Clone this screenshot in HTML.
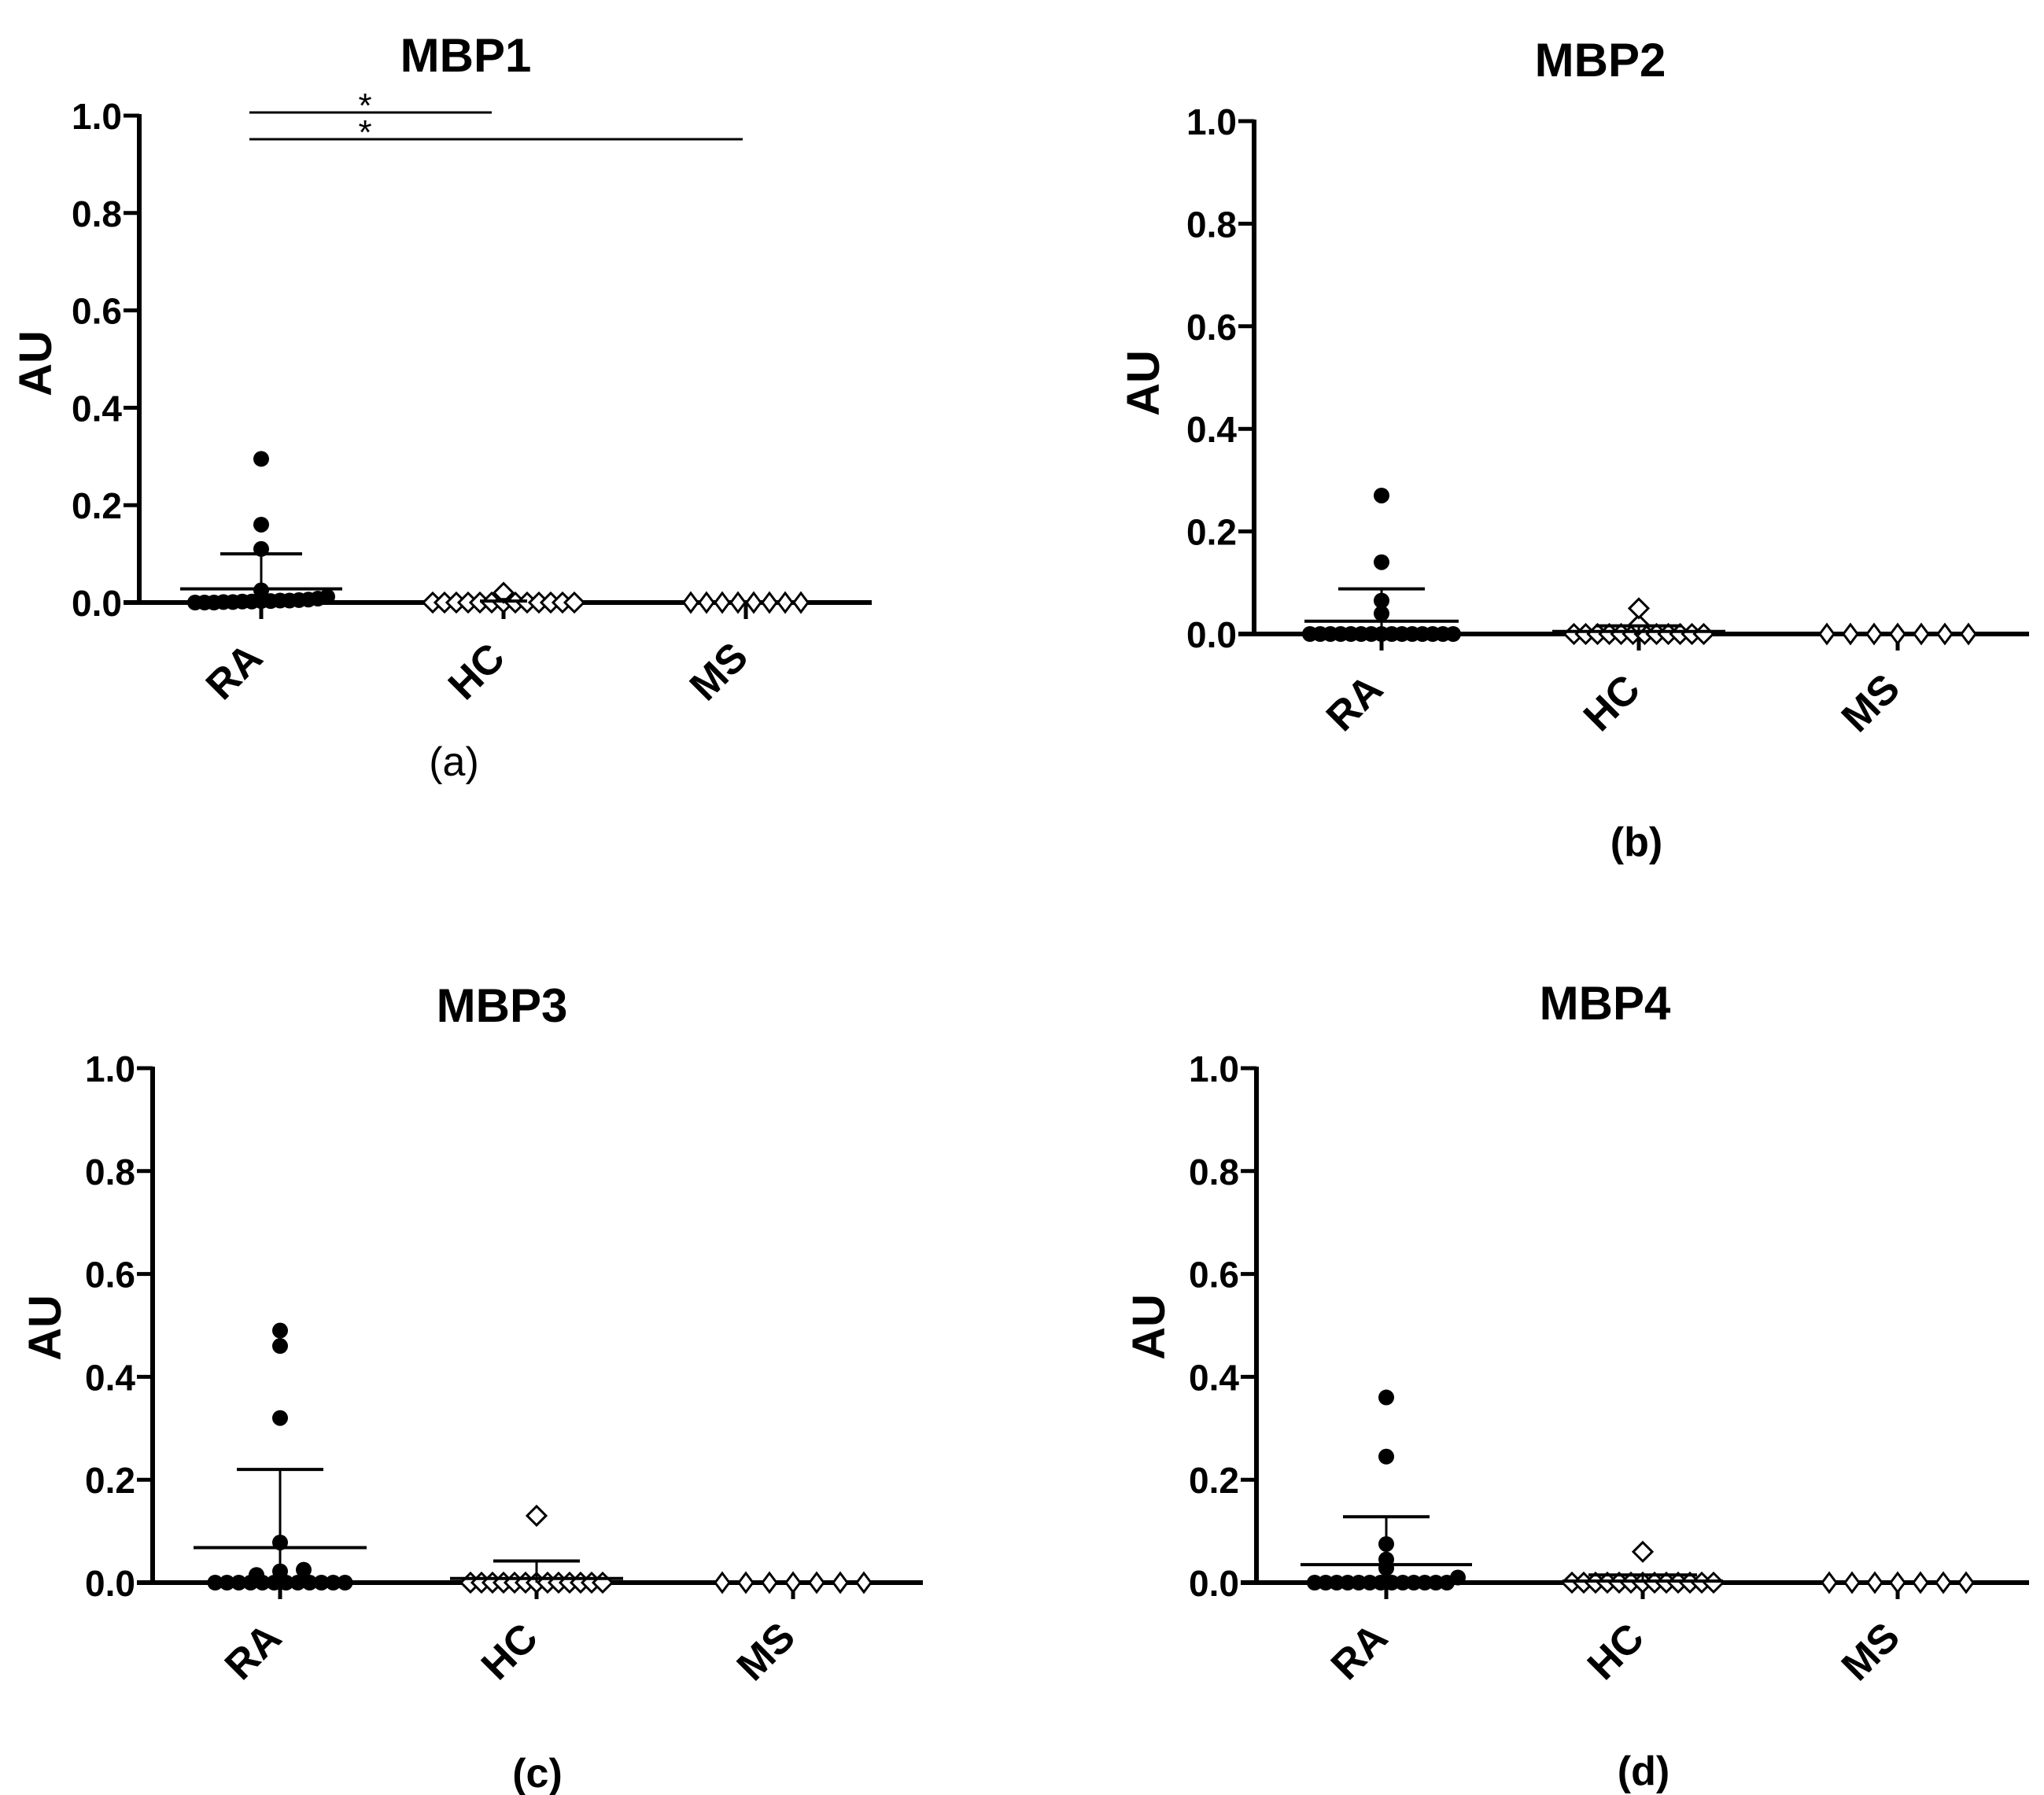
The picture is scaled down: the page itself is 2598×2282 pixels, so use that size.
<!DOCTYPE html>
<html><head><meta charset="utf-8"><style>
html,body{margin:0;padding:0;background:#fff}
svg{display:block}
text{font-family:"Liberation Sans",Arial,sans-serif;fill:#000}
</style></head><body>
<svg id="fig" width="2598" height="2282" viewBox="0 0 2598 2282" xmlns="http://www.w3.org/2000/svg"></svg>
<script>
// ---- data (values in AU) ----
const categories = ["RA","HC","MS"];
const yTicks = [0,0.2,0.4,0.6,0.8,1.0];
const yTickLabels = ["0.0","0.2","0.4","0.6","0.8","1.0"];
const panelTitles = ["MBP1","MBP2","MBP3","MBP4"];
const panelLetters = ["(a)","(b)","(c)","(d)"];

const mbp1RA = [0.295,0.16,0.11,0.025,0.012,0.008,0.006,0.005,0.004,0.004,0.003,0.003,0.002,0.002,0.001,0.001,0,0,0];
const mbp1HC = [0.02,0,0,0,0,0,0,0,0,0,0,0,0,0];
const mbp1MS = [0,0,0,0,0,0,0,0];
const mbp1Mean = [0.028,0.003,0];
const mbp1Upper = [0.10,0.006,0];

const mbp2RA = [0.27,0.14,0.065,0.04,0,0,0,0,0,0,0,0,0,0,0,0,0,0,0];
const mbp2HC = [0.05,0.018,0,0,0,0,0,0,0,0,0,0,0,0];
const mbp2MS = [0,0,0,0,0,0,0];
const mbp2Mean = [0.025,0.005,0];
const mbp2Upper = [0.088,0.016,0];

const mbp3RA = [0.49,0.46,0.32,0.078,0.025,0.022,0.015,0,0,0,0,0,0,0,0,0,0,0,0];
const mbp3HC = [0.13,0,0,0,0,0,0,0,0,0,0,0,0,0];
const mbp3MS = [0,0,0,0,0,0,0];
const mbp3Mean = [0.068,0.008,0];
const mbp3Upper = [0.22,0.042,0];

const mbp4RA = [0.36,0.245,0.075,0.045,0.028,0.01,0,0,0,0,0,0,0,0,0,0,0,0,0];
const mbp4HC = [0.06,0,0,0,0,0,0,0,0,0,0,0,0,0];
const mbp4MS = [0,0,0,0,0,0,0];
const mbp4Mean = [0.035,0.003,0];
const mbp4Upper = [0.128,0.015,0];

// ---- layout (pixels) ----
const layouts = [
 {ax:177, top:147, zero:766, xEnd:1108, cx:[332,640,948], title:[592,70], letter:[577,968], au:[44,462], spacing:[12,15,20], mw:[103,30,0], sw:[52,10,0], bold:false},
 {ax:1594, top:154, zero:806, xEnd:2579, cx:[1756,2083,2412], title:[2034,76], letter:[2080,1070], au:[1452,487], spacing:[13,15,30], mw:[98,110,0], sw:[55,55,0], bold:true},
 {ax:194, top:1358, zero:2012, xEnd:1173, cx:[356,682,1008], title:[638,1278], letter:[683,2254], au:[56,1688], spacing:[15,14,30], mw:[110,110,0], sw:[55,55,0], bold:true},
 {ax:1597, top:1358, zero:2012, xEnd:2579, cx:[1762,2088,2412], title:[2040,1275], letter:[2089,2251], au:[1459,1687], spacing:[14,15,29], mw:[109,102,0], sw:[55,69,0], bold:true}
];
const groups = [[mbp1RA,mbp1HC,mbp1MS],[mbp2RA,mbp2HC,mbp2MS],[mbp3RA,mbp3HC,mbp3MS],[mbp4RA,mbp4HC,mbp4MS]];
const means = [mbp1Mean,mbp2Mean,mbp3Mean,mbp4Mean];
const uppers = [mbp1Upper,mbp2Upper,mbp3Upper,mbp4Upper];

const NS="http://www.w3.org/2000/svg";
const svg=document.getElementById('fig');
function mk(tag,attrs,parent){const e=document.createElementNS(NS,tag);for(const k in attrs)e.setAttribute(k,attrs[k]);(parent||svg).appendChild(e);return e;}

groups.forEach((gs,p)=>{
  const L=layouts[p];
  const g=mk('g',{});
  
  
  const yS=v=>L.zero-(v)*(L.zero-L.top);
  const t=mk('text',{x:L.title[0],y:L.title[1]+21,'text-anchor':'middle','font-size':60,'font-weight':'bold'},g);
  t.textContent=panelTitles[p];
  
  
  const ya=mk('line',{x1:L.ax,y1:L.top-2,x2:L.ax,y2:L.zero,stroke:'#000','stroke-width':6},g);
  
  
  yTicks.forEach((v,i)=>{
    const y=yS(v);
    const tk=mk('line',{x1:L.ax-20,y1:y,x2:L.ax,y2:y,stroke:'#000','stroke-width':5},g);
    
    
    const tl=mk('text',{x:L.ax-22,y:y+17,'text-anchor':'end','font-size':46,'font-weight':'bold'},g);
    tl.textContent=yTickLabels[i];
    
    
  });
  const au=mk('text',{x:0,y:0,'text-anchor':'middle','font-size':58,'font-weight':'bold',transform:`translate(${L.au[0]+21},${L.au[1]}) rotate(-90)`},g);
  au.textContent='AU';
  
  
  const xa=mk('line',{x1:L.ax-20,y1:L.zero,x2:L.xEnd,y2:L.zero,stroke:'#000','stroke-width':6},g);
  
  
  categories.forEach((c,ci)=>{
    const x=L.cx[ci];
    const tk=mk('line',{x1:x,y1:L.zero,x2:x,y2:L.zero+21,stroke:'#000','stroke-width':5},g);
    
    
    const cl=mk('text',{x:0,y:0,'text-anchor':'middle','font-size':52,'font-weight':'bold',transform:`translate(${x-22},${L.zero+100}) rotate(-45)`},g);
    cl.textContent=c;
    
    
    const vals=gs[ci].slice().sort((a,b)=>a-b);
    const rows=[];
    vals.forEach(v=>{const py=yS(v);let r=rows.find(r=>Math.abs(r.y-py)<9);if(r)r.v.push(v);else rows.push({y:py,v:[v]});});
    rows.forEach(r=>{
      const n=r.v.length, sp=L.spacing[ci]*(n<5?2:1);
      r.v.forEach((v,k)=>{
        const x0=x+(k-(n-1)/2)*sp;
        const py=yS(v);
        let m;
        if(ci===0){
          m=mk('circle',{cx:x0,cy:py,r:10,fill:'#000'},g);
        } else {
          const hw=ci===2?9:12,hh=12;
          m=mk('polygon',{points:`${x0},${py-hh} ${x0+hw},${py} ${x0},${py+hh} ${x0-hw},${py}`,fill:'#fff',stroke:'#000','stroke-width':3},g);
        }
        
        
      });
    });
    const mv=means[p][ci], uv=uppers[p][ci];
    if(L.mw[ci]>0){
      const ml=mk('line',{x1:x-L.mw[ci],y1:yS(mv),x2:x+L.mw[ci],y2:yS(mv),stroke:'#000','stroke-width':4},g);
      
      
      const el=mk('line',{x1:x,y1:yS(uv),x2:x,y2:yS(Math.max(0,mv-(uv-mv))),stroke:'#000','stroke-width':3},g);
      
      
      const cap=mk('line',{x1:x-L.sw[ci],y1:yS(uv),x2:x+L.sw[ci],y2:yS(uv),stroke:'#000','stroke-width':4},g);
      
      
    }
  });
  const lt=mk('text',{x:L.letter[0],y:L.letter[1]+18,'text-anchor':'middle','font-size':52,'font-weight':L.bold?'bold':'normal'},g);
  lt.textContent=panelLetters[p];
  
  
});

const sig=[[317,625,143],[317,944,177]];
sig.forEach(s=>{
  const l=mk('line',{x1:s[0],y1:s[2],x2:s[1],y2:s[2],stroke:'#000','stroke-width':3});
  
  
  const st=mk('text',{x:464,y:s[2]+6,'text-anchor':'middle','font-size':44});
  st.textContent='*';
  
  
});
</script>
</body></html>
